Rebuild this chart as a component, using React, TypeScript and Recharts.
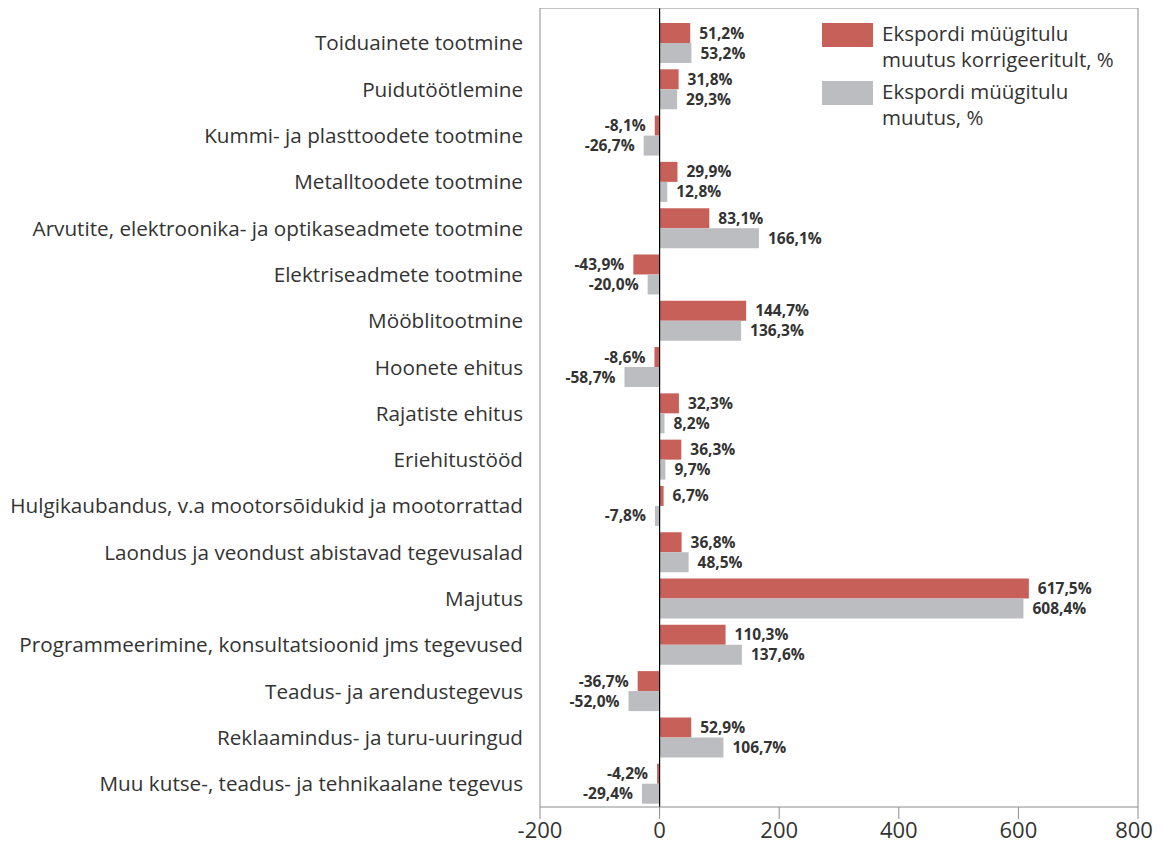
import React from "react";
import {
  BarChart,
  Bar,
  XAxis,
  YAxis,
  Legend,
  LabelList,
  ReferenceLine,
} from "recharts";

const categories = [
  "Toiduainete tootmine",
  "Puidutöötlemine",
  "Kummi- ja plasttoodete tootmine",
  "Metalltoodete tootmine",
  "Arvutite, elektroonika- ja optikaseadmete tootmine",
  "Elektriseadmete tootmine",
  "Mööblitootmine",
  "Hoonete ehitus",
  "Rajatiste ehitus",
  "Eriehitustööd",
  "Hulgikaubandus, v.a mootorsõidukid ja mootorrattad",
  "Laondus ja veondust abistavad tegevusalad",
  "Majutus",
  "Programmeerimine, konsultatsioonid jms tegevused",
  "Teadus- ja arendustegevus",
  "Reklaamindus- ja turu-uuringud",
  "Muu kutse-, teadus- ja tehnikaalane tegevus",
];

const adjustedChange = [
  51.2, 31.8, -8.1, 29.9, 83.1, -43.9, 144.7, -8.6, 32.3, 36.3, 6.7, 36.8,
  617.5, 110.3, -36.7, 52.9, -4.2,
];

const rawChange = [
  53.2, 29.3, -26.7, 12.8, 166.1, -20.0, 136.3, -58.7, 8.2, 9.7, -7.8, 48.5,
  608.4, 137.6, -52.0, 106.7, -29.4,
];

const xTicks = [-200, 0, 200, 400, 600, 800];

const seriesNames = [
  ["Ekspordi müügitulu", "muutus korrigeeritult, %"],
  ["Ekspordi müügitulu", "muutus, %"],
];

const RED = "#c8605a";
const GREY = "#bcbdc1";
const FONT = "'Open Sans', 'Noto Sans', sans-serif";

const data = categories.map((name, i) => ({
  name,
  adjusted: adjustedChange[i],
  raw: rawChange[i],
}));

const fmt = (v: any) => Number(v).toFixed(1).replace(".", ",") + "%";

// last tick label nudged left a little so it is not cut at the page edge
const XTick = ({ x, y, payload }: any) => (
  <text
    x={payload.value === xTicks[xTicks.length - 1] ? x - 4 : x}
    y={y}
    dy="0.71em"
    textAnchor="middle"
    fill="#333"
    fontSize={22}
    fontFamily={FONT}
  >
    {payload.value}
  </text>
);

const LegendBox = () => (
  <div style={{ fontFamily: FONT, fontSize: 20.5, color: "#333", lineHeight: "26px" }}>
    {[RED, GREY].map((c, i) => (
      <div key={i} style={{ display: "flex", alignItems: "flex-start", marginBottom: 9 }}>
        <div style={{ width: 51, height: 24, background: c, marginRight: 9, flex: "none" }} />
        <div style={{ marginTop: -3 }}>
          <div>{seriesNames[i][0]}</div>
          <div>{seriesNames[i][1]}</div>
        </div>
      </div>
    ))}
  </div>
);

const labelStyle = { fill: "#333", fontSize: 15.5, fontWeight: 700, fontFamily: FONT };

export default function App() {
  return (
    <div
      style={{
        margin: "-8px -8px -8px -8px",
        width: 1162,
        height: 849,
        background: "#fff",
        position: "relative",
        overflow: "hidden",
      }}
    >
      <BarChart
        width={1162}
        height={849}
        data={data}
        layout="vertical"
        margin={{ top: 7, right: 23, bottom: 0, left: 10 }}
        barCategoryGap={3}
        barGap={0}
      >
        <XAxis
          type="number"
          domain={[-200, 800]}
          ticks={xTicks}
          interval={0}
          height={42}
          tickSize={12}
          tickMargin={3}
          stroke="#8c8c8c"
          tick={<XTick />}
        />
        <XAxis
          xAxisId="top"
          orientation="top"
          type="number"
          domain={[-200, 800]}
          height={1}
          tick={false}
          tickLine={false}
          stroke="#8c8c8c"
        />
        <YAxis
          type="category"
          dataKey="name"
          width={530}
          padding={{ top: 12, bottom: 0 }}
          tickLine={false}
          tickSize={0}
          tickMargin={17}
          interval={0}
          stroke="#8c8c8c"
          tick={{ fill: "#333", fontSize: 20.7, fontFamily: FONT }}
        />
        <YAxis
          yAxisId="right"
          orientation="right"
          type="category"
          dataKey="name"
          width={1}
          tick={false}
          tickLine={false}
          stroke="#8c8c8c"
        />
        <Legend
          verticalAlign="middle"
          align="center"
          layout="horizontal"
          wrapperStyle={{ top: 23, left: 822, width: 320 }}
          content={() => <LegendBox />}
        />
        <Bar dataKey="adjusted" fill={RED} isAnimationActive={false}>
          <LabelList dataKey="adjusted" position="right" offset={9} formatter={fmt} style={labelStyle} />
        </Bar>
        <Bar dataKey="raw" fill={GREY} isAnimationActive={false}>
          <LabelList dataKey="raw" position="right" offset={9} formatter={fmt} style={labelStyle} />
        </Bar>
        <ReferenceLine x={0} stroke="#000" strokeWidth={1.2} />
      </BarChart>
    </div>
  );
}
